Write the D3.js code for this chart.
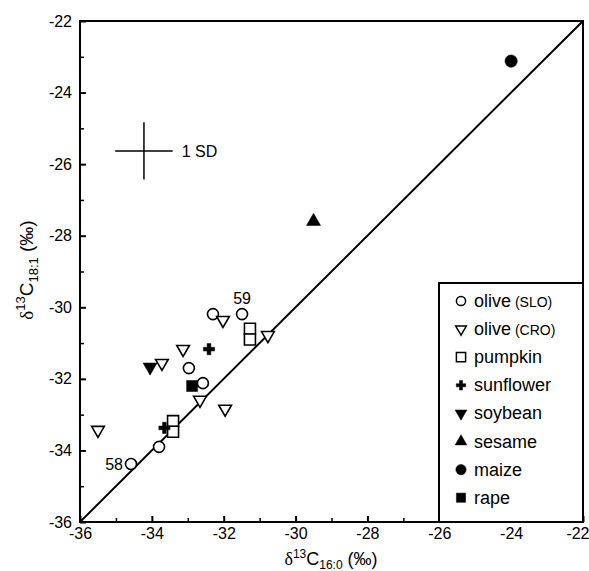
<!DOCTYPE html>
<html>
<head>
<meta charset="utf-8">
<script src="https://cdn.jsdelivr.net/npm/d3@7"></script>
<style>
  body { margin: 0; background: #fff; }
  svg { font-family: "Liberation Sans", Arial, sans-serif; }
</style>
</head>
<body>
<div id="chart"></div>
<script>
// values: [d13C 16:0, d13C 18:1]
const oliveSLO = [[-34.58, -34.38], [-33.8, -33.9], [-32.58, -32.12], [-32.97, -31.7], [-32.3, -30.19], [-31.49, -30.19]];
const oliveCRO = [[-35.5, -33.43], [-33.72, -31.56], [-33.13, -31.17], [-32.66, -32.59], [-31.96, -32.84], [-32.02, -30.36], [-30.77, -30.78]];
const pumpkin = [[-33.41, -33.18], [-33.41, -33.48], [-31.27, -30.6], [-31.27, -30.9]];
const sunflower = [[-33.65, -33.37], [-32.41, -31.17]];
const soybean = [[-34.05, -31.67]];
const sesame = [[-29.5, -27.6]];
const maize = [[-24.0, -23.12]];
const rape = [[-32.88, -32.2]];
const pointLabels = [{ text: "58", at: [-34.58, -34.38] }, { text: "59", at: [-31.49, -30.19] }];
const sdCenter = [-34.22, -25.63];
const sd = 0.8;
const ticks = [-36, -34, -32, -30, -28, -26, -24, -22];
const minorTicks = [-35, -33, -31, -29, -27, -25, -23];

const width = 589, height = 571;
const margin = { top: 21, right: 6, bottom: 49, left: 80 };

const svg = d3.select('#chart').append('svg')
  .attr('width', width).attr('height', height);

const x = d3.scaleLinear().domain([-36, -22]).range([margin.left, width - margin.right]);
const y = d3.scaleLinear().domain([-36, -22]).range([height - margin.bottom, margin.top]);

const fmt = d => String(d);  // plain hyphen like the original

// series: name, data, symbol, filled, rotate
const series = [
  { name: "olive", small: "(SLO)", data: oliveSLO, type: d3.symbolCircle, size: 95, fill: false, rot: 0 },
  { name: "olive", small: "(CRO)", data: oliveCRO, type: d3.symbolTriangle, size: 70, fill: false, rot: 180 },
  { name: "pumpkin", data: pumpkin, type: d3.symbolSquare, size: 121, fill: false, rot: 0 },
  { name: "sunflower", data: sunflower, type: d3.symbolCross, size: 70, fill: true, rot: 0 },
  { name: "soybean", data: soybean, type: d3.symbolTriangle, size: 85, fill: true, rot: 180 },
  { name: "sesame", data: sesame, type: d3.symbolTriangle, size: 85, fill: true, rot: 0 },
  { name: "maize", data: maize, type: d3.symbolCircle, size: 120, fill: true, rot: 0 },
  { name: "rape", data: rape, type: d3.symbolSquare, size: 121, fill: true, rot: 0 }
];

// frame
svg.append('rect')
  .attr('x', x(-36)).attr('y', y(-22))
  .attr('width', x(-22) - x(-36)).attr('height', y(-36) - y(-22))
  .attr('fill', 'none').attr('stroke', '#000').attr('stroke-width', 2);

// axes, ticks inside
svg.append('g')
  .attr('transform', `translate(0,${y(-36)})`)
  .call(d3.axisBottom(x).tickValues(ticks).tickSizeInner(-6).tickSizeOuter(0).tickPadding(6).tickFormat(fmt))
  .call(g => g.select('.domain').remove())
  .call(g => g.selectAll('line').attr('stroke-width', 2))
  .call(g => g.selectAll('text').attr('font-size', 16).attr('fill', '#000'))
  .call(g => g.selectAll('text').filter(d => d === -22).attr('text-anchor', 'end').attr('dx', 6));
svg.append('g')
  .attr('transform', `translate(0,${y(-36)})`)
  .call(d3.axisBottom(x).tickValues(minorTicks).tickSize(-4).tickFormat(''))
  .call(g => g.select('.domain').remove())
  .call(g => g.selectAll('line').attr('stroke-width', 1.5));

svg.append('g')
  .attr('transform', `translate(${x(-36)},0)`)
  .call(d3.axisLeft(y).tickValues(ticks).tickSizeInner(-6).tickSizeOuter(0).tickPadding(8).tickFormat(fmt))
  .call(g => g.select('.domain').remove())
  .call(g => g.selectAll('line').attr('stroke-width', 2))
  .call(g => g.selectAll('text').attr('font-size', 16).attr('fill', '#000'));
svg.append('g')
  .attr('transform', `translate(${x(-36)},0)`)
  .call(d3.axisLeft(y).tickValues(minorTicks).tickSize(-4).tickFormat(''))
  .call(g => g.select('.domain').remove())
  .call(g => g.selectAll('line').attr('stroke-width', 1.5));

// 1:1 line
svg.append('line')
  .attr('x1', x(-36)).attr('y1', y(-36)).attr('x2', x(-22)).attr('y2', y(-22))
  .attr('stroke', '#000').attr('stroke-width', 2);

// 1 SD cross
svg.append('line')
  .attr('x1', x(sdCenter[0] - sd)).attr('x2', x(sdCenter[0] + sd))
  .attr('y1', y(sdCenter[1])).attr('y2', y(sdCenter[1]))
  .attr('stroke', '#000').attr('stroke-width', 1.5);
svg.append('line')
  .attr('x1', x(sdCenter[0])).attr('x2', x(sdCenter[0]))
  .attr('y1', y(sdCenter[1] - sd)).attr('y2', y(sdCenter[1] + sd))
  .attr('stroke', '#000').attr('stroke-width', 1.5);
svg.append('text')
  .attr('x', x(sdCenter[0] + sd) + 9).attr('y', y(sdCenter[1]) + 6)
  .attr('font-size', 16).text('1 SD');

// points
series.forEach(s => {
  svg.append('g').selectAll('path')
    .data(s.data)
    .join('path')
    .attr('d', d3.symbol().type(s.type).size(s.size))
    .attr('transform', d => `translate(${x(d[0])},${y(d[1])}) rotate(${s.rot})`)
    .attr('fill', s.fill ? '#000' : '#fff')
    .attr('stroke', '#000')
    .attr('stroke-width', s.fill ? 0.5 : 1.6);
});

// point labels
svg.append('text')
  .attr('x', x(pointLabels[0].at[0]) - 8).attr('y', y(pointLabels[0].at[1]) + 6)
  .attr('text-anchor', 'end').attr('font-size', 16).text(pointLabels[0].text);
svg.append('text')
  .attr('x', x(pointLabels[1].at[0])).attr('y', y(pointLabels[1].at[1]) - 10)
  .attr('text-anchor', 'middle').attr('font-size', 16).text(pointLabels[1].text);

// legend
const lgX = 439, lgY = 283;
svg.append('rect')
  .attr('x', lgX).attr('y', lgY)
  .attr('width', x(-22) - lgX).attr('height', y(-36) - lgY)
  .attr('fill', '#fff').attr('stroke', '#000').attr('stroke-width', 2);
const lg = svg.append('g');
series.forEach((s, i) => {
  const cy = lgY + 18 + i * 28.1;
  lg.append('path')
    .attr('d', d3.symbol().type(s.type).size(s.size * 0.7))
    .attr('transform', `translate(${lgX + 22},${cy}) rotate(${s.rot})`)
    .attr('fill', s.fill ? '#000' : '#fff')
    .attr('stroke', '#000')
    .attr('stroke-width', s.fill ? 0.5 : 1.5);
  const t = lg.append('text')
    .attr('x', lgX + 35).attr('y', cy + 6)
    .attr('font-size', 18).text(s.name);
  if (s.small) t.append('tspan').attr('font-size', 14).text(' ' + s.small);
});

// axis titles
const xt = svg.append('text')
  .attr('x', 331).attr('y', 565)
  .attr('text-anchor', 'middle').attr('font-size', 18);
xt.append('tspan').attr('font-family', '"Liberation Serif", serif').text('δ');
xt.append('tspan').attr('font-size', 12).attr('dy', -7).text('13');
xt.append('tspan').attr('dy', 7).text('C');
xt.append('tspan').attr('font-size', 12).attr('dy', 4).text('16:0');
xt.append('tspan').attr('dy', -4).text(' (‰)');

const yt = svg.append('text')
  .attr('transform', 'translate(33,270) rotate(-90)')
  .attr('text-anchor', 'middle').attr('font-size', 19);
yt.append('tspan').attr('font-family', '"Liberation Serif", serif').text('δ');
yt.append('tspan').attr('font-size', 13).attr('dy', -8).text('13');
yt.append('tspan').attr('dy', 8).text('C');
yt.append('tspan').attr('font-size', 13).attr('dy', 5).text('18:1');
yt.append('tspan').attr('dy', -5).text(' (‰)');
</script>
</body>
</html>
